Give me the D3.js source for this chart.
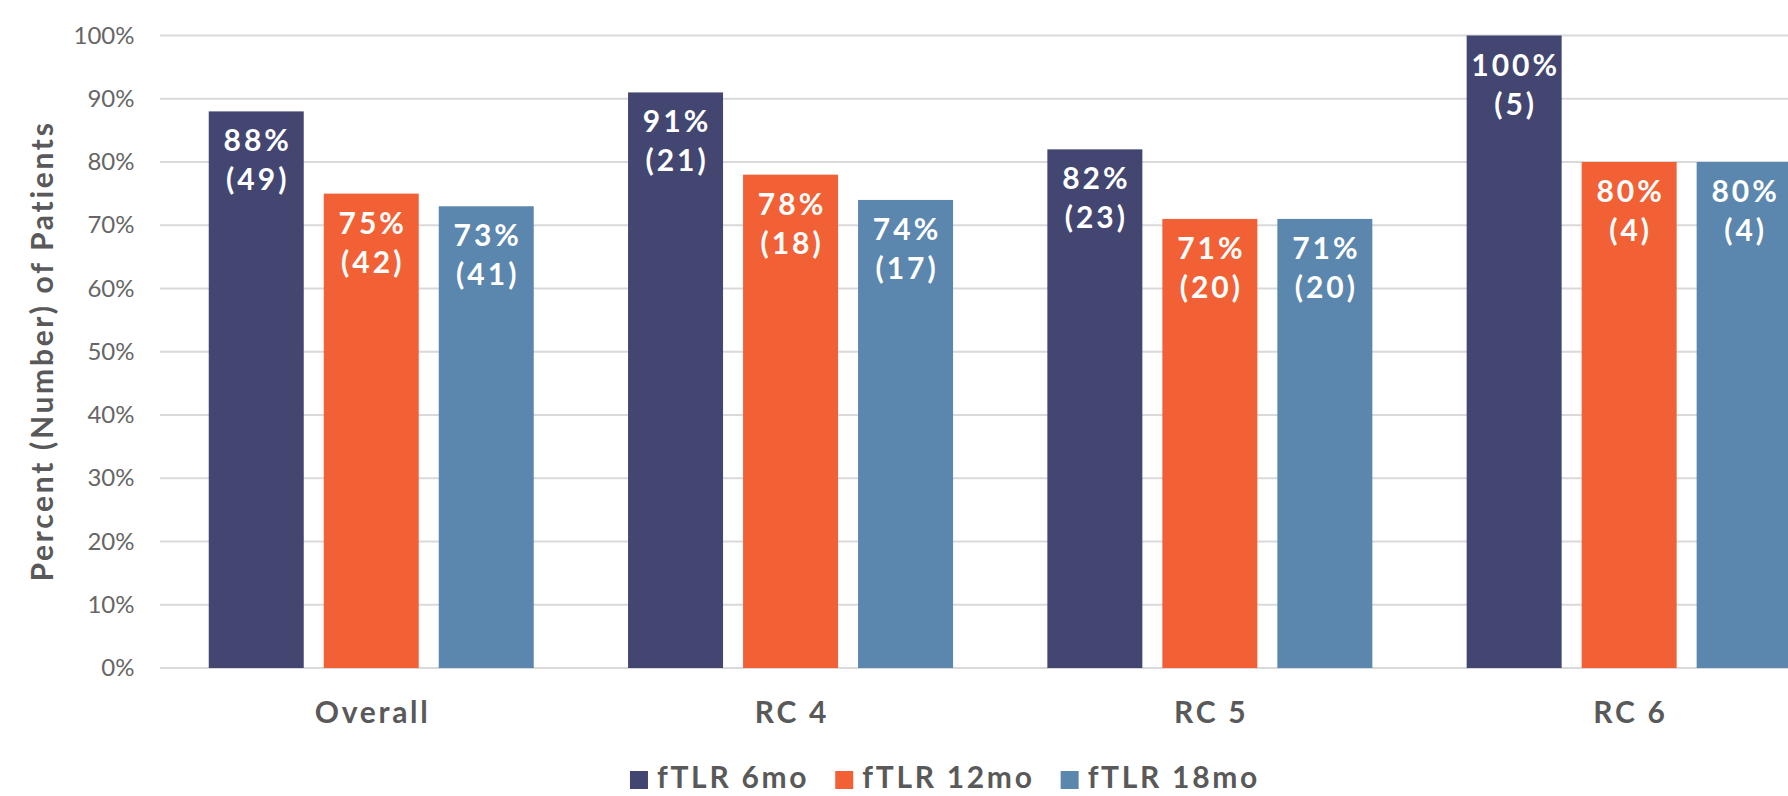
<!DOCTYPE html>
<html>
<head>
<meta charset="utf-8">
<script src="https://cdn.jsdelivr.net/npm/d3@7"></script>
<style>
  html, body { margin: 0; padding: 0; background: #fff; overflow: hidden; }
  svg { display: block; }
  text { font-family: Lato, "Open Sans", sans-serif; }
</style>
</head>
<body>
<svg id="chart" width="1788" height="796"></svg>
<script>
// ---- data ----
const categories = ["Overall", "RC 4", "RC 5", "RC 6"];
const seriesNames = ["fTLR 6mo", "fTLR 12mo", "fTLR 18mo"];
const pct6mo  = [88, 91, 82, 100];
const num6mo  = [49, 21, 23, 5];
const pct12mo = [75, 78, 71, 80];
const num12mo = [42, 18, 20, 4];
const pct18mo = [73, 74, 71, 80];
const num18mo = [41, 17, 20, 4];
const yTicks = [0, 10, 20, 30, 40, 50, 60, 70, 80, 90, 100];
const colors = ["#424670", "#F26135", "#5B86AD"];

const seriesPct = [pct6mo, pct12mo, pct18mo];
const seriesNum = [num6mo, num12mo, num18mo];

const svg = d3.select("#chart");

const groupStep = 419.3;
const x0 = 161.6;
const x = d3.scaleBand()
  .domain(categories)
  .range([x0, x0 + groupStep * categories.length])
  .padding(0);

const xi = d3.scaleBand()
  .domain(seriesNames)
  .range([0, x.bandwidth()])
  .paddingInner(0.174)
  .paddingOuter(0.41);

const y = d3.scaleLinear().domain([0, 100]).range([668, 35.5]);

// gridlines
svg.append("g")
  .selectAll("line")
  .data(yTicks)
  .join("line")
  .attr("x1", 160)
  .attr("x2", 1788)
  .attr("y1", d => y(d))
  .attr("y2", d => y(d))
  .attr("stroke", "#d9d9d9")
  .attr("stroke-width", 2);

// y axis tick labels
const yAxis = d3.axisLeft(y).tickValues(yTicks).tickFormat(d => d + "%").tickSize(0).tickPadding(0);
const yg = svg.append("g").attr("transform", "translate(134.5,0)").call(yAxis);
yg.select(".domain").remove();
yg.selectAll("text")
  .attr("font-size", 24)
  .attr("font-family", "Lato, sans-serif")
  .attr("fill", "#666666");

// y axis title
svg.append("text")
  .attr("transform", "translate(53,351) rotate(-90)")
  .attr("text-anchor", "middle")
  .attr("font-size", 30)
  .attr("font-weight", 700)
  .attr("letter-spacing", 2.7)
  .attr("fill", "#595959")
  .text("Percent (Number) of Patients");

// bars
const rows = [];
categories.forEach((c, ci) => {
  seriesNames.forEach((s, si) => {
    rows.push({ cat: c, series: s, si: si, pct: seriesPct[si][ci], n: seriesNum[si][ci] });
  });
});

const bars = svg.append("g");
bars.selectAll("rect")
  .data(rows)
  .join("rect")
  .attr("x", d => x(d.cat) + xi(d.series))
  .attr("width", xi.bandwidth())
  .attr("y", d => y(d.pct))
  .attr("height", d => y(0) - y(d.pct))
  .attr("fill", d => colors[d.si]);

// bar labels
const lbl = svg.append("g");
lbl.selectAll("text.l1")
  .data(rows)
  .join("text")
  .attr("class", "l1")
  .attr("x", d => x(d.cat) + xi(d.series) + xi.bandwidth() / 2 + 1.5)
  .attr("y", d => y(d.pct) + 40)
  .attr("text-anchor", "middle")
  .attr("font-size", 30)
  .attr("font-weight", 700)
  .attr("letter-spacing", 3)
  .attr("fill", "#ffffff")
  .text(d => d.pct + "%");
lbl.selectAll("text.l2")
  .data(rows)
  .join("text")
  .attr("class", "l2")
  .attr("x", d => x(d.cat) + xi(d.series) + xi.bandwidth() / 2 + 1.5)
  .attr("y", d => y(d.pct) + 79)
  .attr("text-anchor", "middle")
  .attr("font-size", 30)
  .attr("font-weight", 700)
  .attr("letter-spacing", 3)
  .attr("fill", "#ffffff")
  .text(d => "(" + d.n + ")");

// category labels
const xAxis = d3.axisBottom(x).tickSize(0).tickPadding(0);
const xg = svg.append("g").attr("transform", "translate(0,0)").call(xAxis);
xg.select(".domain").remove();
xg.selectAll("text")
  .attr("y", 723)
  .attr("dy", null)
  .attr("dx", 1.3)
  .attr("font-size", 30)
  .attr("font-weight", 700)
  .attr("letter-spacing", 2.7)
  .attr("font-family", "Lato, sans-serif")
  .attr("fill", "#595959");

// legend
const legend = svg.append("g");
const items = legend.selectAll("g")
  .data(seriesNames)
  .join("g");
items.append("rect")
  .attr("width", 18)
  .attr("height", 18)
  .attr("y", 771)
  .attr("fill", (d, i) => colors[i]);
items.append("text")
  .attr("x", 27)
  .attr("y", 788)
  .attr("font-size", 30)
  .attr("font-weight", 700)
  .attr("letter-spacing", 2.7)
  .attr("fill", "#595959")
  .text(d => d);
const widths = [];
items.each(function () {
  const w = d3.select(this).select("text").node().getComputedTextLength();
  widths.push(27 + w);
});
const gapL = 26;
const total = d3.sum(widths) + gapL * (widths.length - 1);
let start = 945 - total / 2;
items.attr("transform", (d, i) => {
  const t = "translate(" + start + ",0)";
  start += widths[i] + gapL;
  return t;
});
</script>
</body>
</html>
